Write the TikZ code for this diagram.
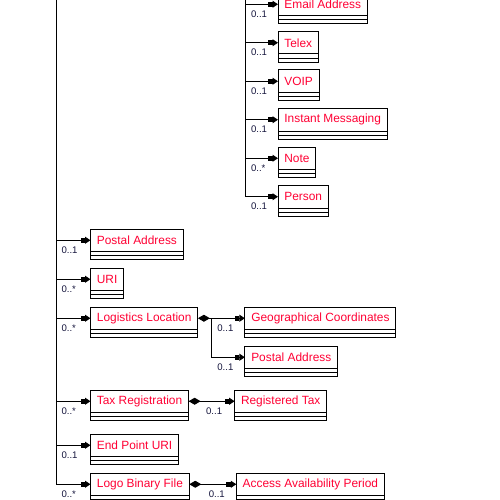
\documentclass[tikz,border=0pt]{standalone}
\usepackage{fontspec}
\setmainfont{Liberation Sans}
\usepackage{tikz}
\usetikzlibrary{arrows.meta,positioning}
\definecolor{clsred}{RGB}{255,0,51}
\definecolor{multnavy}{RGB}{20,20,60}

\begin{document}
\begin{tikzpicture}[x=1pt,y=-1pt]
\tikzstyle{cls}=[rectangle, draw, line width=1pt, anchor=north west, outer sep=0pt, minimum height=22.5pt, inner xsep=6.4pt, inner ysep=0pt, text=clsred, font=\fontsize{11.9}{13}\selectfont]
\tikzstyle{conn}=[line width=1pt, -{Rectangle[length=4.5pt,width=5pt]Triangle[length=5.5pt,width=7pt]}]
\tikzstyle{agg}=[line width=1pt, {Diamond[length=12pt,width=7pt]}-{Rectangle[length=4.5pt,width=5pt]Triangle[length=5.5pt,width=7pt]}]
\tikzstyle{mult}=[inner sep=0pt, anchor=north west, xshift=5pt, yshift=-6pt, text=multnavy, font=\fontsize{9.6}{11}\selectfont]

  \useasboundingbox (0,0) rectangle (500,500);
  \clip (0,0) rectangle (500,500);

  % contact column
  \node[cls] (email) at (278,-7) {Email Address};
  \node[cls] (telex)   [below=16pt of email.south west, anchor=north west]   {Telex};
  \node[cls] (voip)    [below=16pt of telex.south west, anchor=north west]   {VOIP};
  \node[cls] (instant) [below=16pt of voip.south west, anchor=north west]    {Instant Messaging};
  \node[cls] (note)    [below=16pt of instant.south west, anchor=north west] {Note};
  \node[cls] (person)  [below=16pt of note.south west, anchor=north west]    {Person};

  % main column
  \node[cls] (postal) at (90.5,229) {Postal Address};
  \node[cls] (uri)       [below=16.5pt of postal.south west, anchor=north west]    {URI};
  \node[cls] (logistics) [below=16.5pt of uri.south west, anchor=north west]       {Logistics Location};
  \node[cls] (taxreg)    [below=60.5pt of logistics.south west, anchor=north west] {Tax Registration};
  \node[cls] (endpoint)  [below=21.5pt of taxreg.south west, anchor=north west]    {End Point URI};
  \node[cls] (logo)      [below=16.5pt of endpoint.south west, anchor=north west]  {Logo Binary File};

  % parts
  \node[cls] (geo)     [right=47pt of logistics.north east, anchor=north west] {Geographical Coordinates};
  \node[cls] (postal2) [below=16.5pt of geo.south west, anchor=north west]     {Postal Address};
  \node[cls] (regtax)  [right=46pt of taxreg.north east, anchor=north west]    {Registered Tax};
  \node[cls] (access)  [right=47pt of logo.north east, anchor=north west]      {Access Availability Period};

  % empty compartments
  \foreach \n in {email,telex,voip,instant,note,person,postal,uri,logistics,taxreg,endpoint,logo,geo,postal2,regtax,access}
    \draw[line width=1pt] (\n.south west) rectangle ([yshift=-4.2pt]\n.south east)
                          ([yshift=-4.2pt]\n.south west) rectangle ([yshift=-8.4pt]\n.south east);

  \coordinate (topL) at (56,-10);
  \coordinate (topR) at (245.5,-10);
  \coordinate (fork) at ([xshift=14pt]logistics.east);

  \draw[line width=1pt] (topL) -- (topL |- logo.west);
  \draw[line width=1pt] (topR) -- (topR |- person.west);

  \foreach \n/\m in {email/0..1,telex/0..1,voip/0..1,instant/0..1,note/0..*,person/0..1}
    \draw[conn] (topR |- \n.west) -- (\n.west) node[mult, pos=0] {\m};
  \foreach \n/\m in {postal/0..1,uri/0..*,logistics/0..*,taxreg/0..*,endpoint/0..1,logo/0..*}
    \draw[conn] (topL |- \n.west) -- (\n.west) node[mult, pos=0] {\m};

  \draw[agg] (logistics.east) -- (geo.west) node[mult, pos=0, xshift=14pt] {0..1};
  \draw[conn] (fork) |- (postal2.west) node[mult, pos=0.5] {0..1};
  \draw[agg] (taxreg.east) -- (regtax.west) node[mult, pos=0, xshift=12pt] {0..1};
  \draw[agg] (logo.east) -- (access.west) node[mult, pos=0, xshift=14pt] {0..1};

\end{tikzpicture}
\end{document}
